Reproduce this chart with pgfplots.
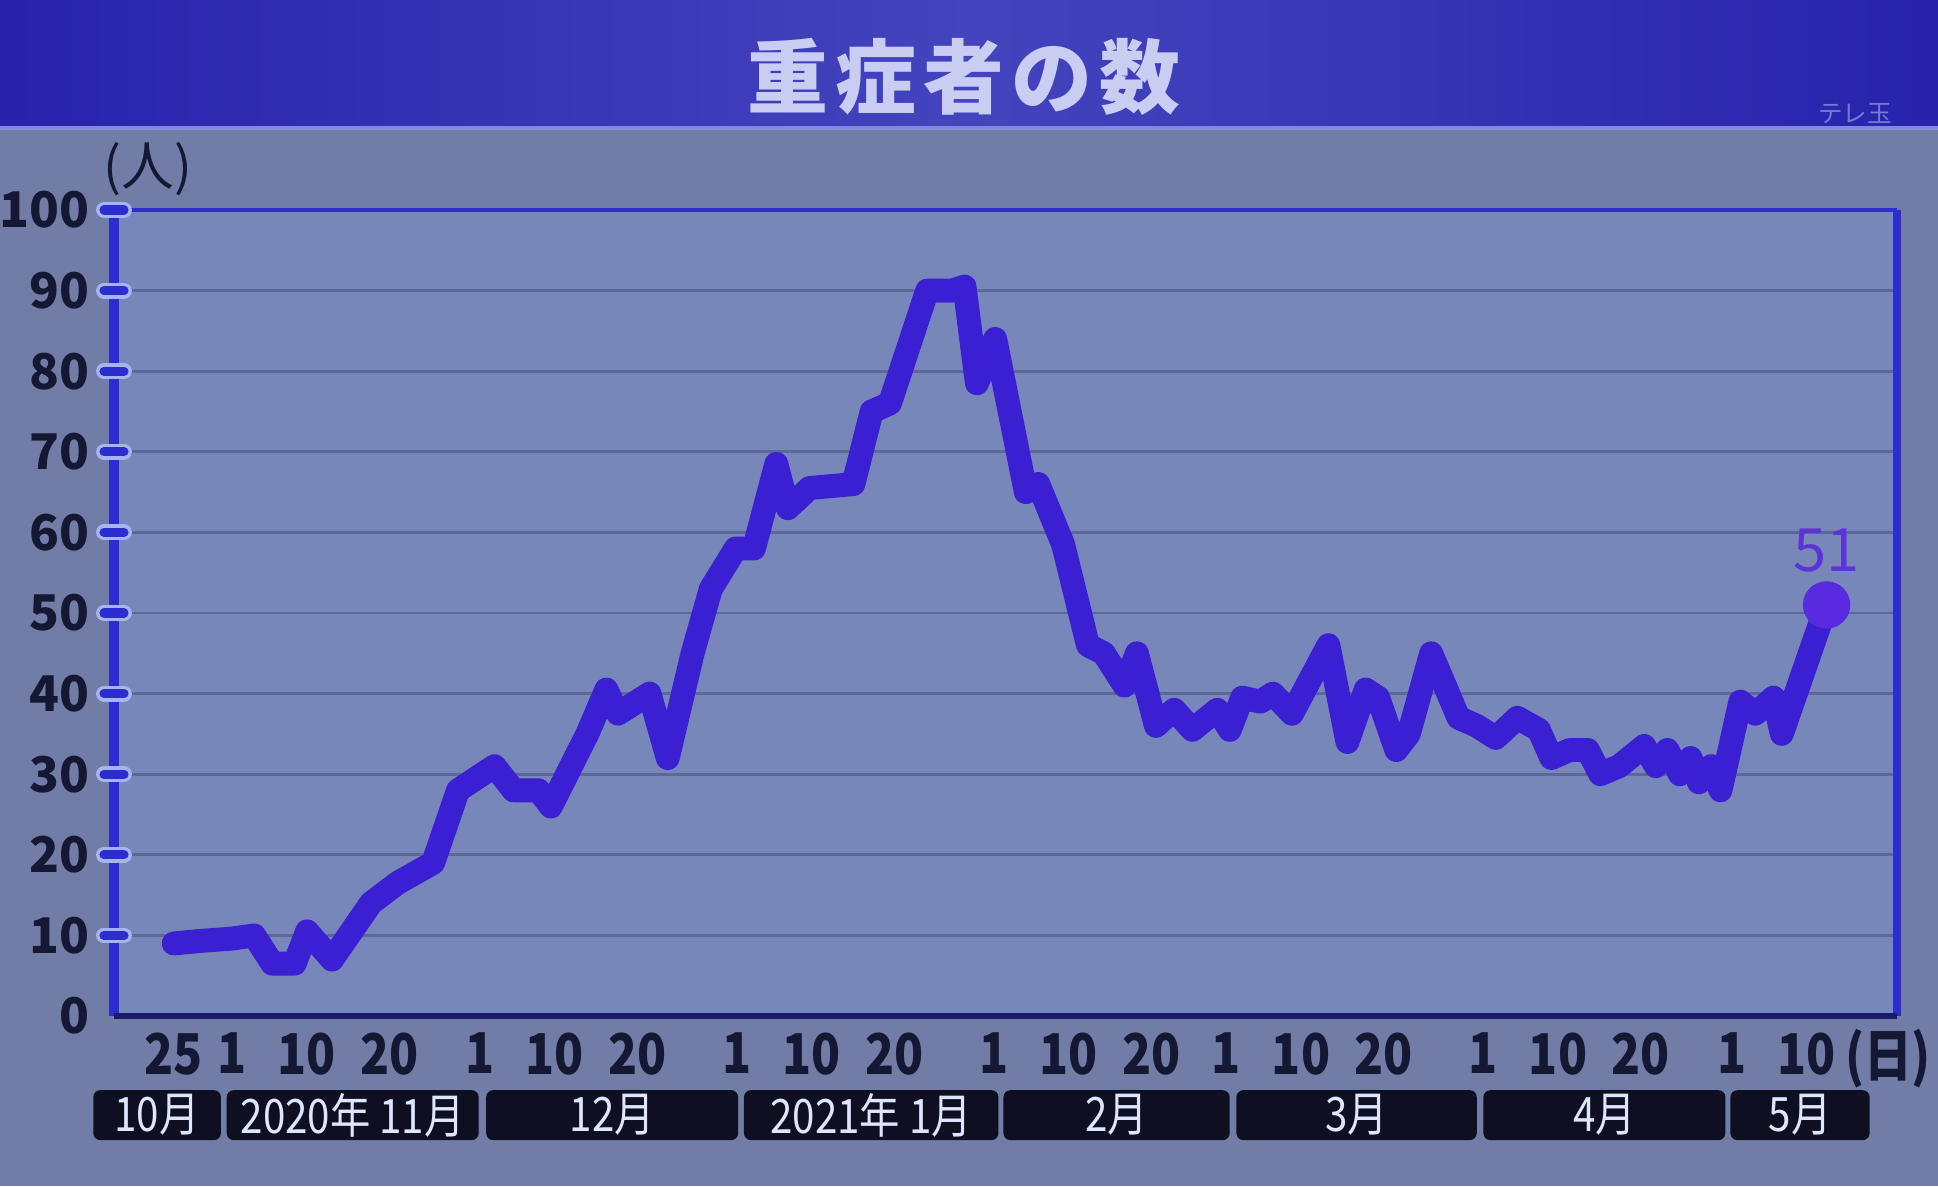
\documentclass[border=0pt]{standalone}
\usepackage{pgfplots}
\pgfplotsset{compat=1.18}
\usepackage{fontspec}
\setmainfont{Noto Sans CJK JP}
\newfontfamily\cond{Noto Sans CJK JP}[FakeStretch=0.85]
\definecolor{bg}{HTML}{717DA6}
\definecolor{plotbg}{HTML}{7787B9}
\definecolor{titlebar}{HTML}{2822AC}
\definecolor{titleglow}{HTML}{4444BE}
\definecolor{lineblue}{HTML}{3A20D2}
\definecolor{axisblue}{HTML}{2C2CD0}
\definecolor{gridc}{HTML}{5C6896}
\definecolor{labeldark}{HTML}{151833}
\definecolor{dotpurple}{HTML}{5A2AE0}
\definecolor{numpurple}{HTML}{5B33D6}
\definecolor{titletext}{HTML}{C9CDF2}
\definecolor{capsule}{HTML}{A8B4F0}
\definecolor{boxc}{HTML}{0E0F20}
\definecolor{boxtext}{HTML}{DFE4FF}
\definecolor{bottomaxis}{HTML}{1A1C6A}
\newcommand{\monthbox}[3]{%
  \fill[boxc, rounded corners=2pt] (axis cs:#1,-9.2) rectangle (axis cs:#2,-15.4);
  \node[boxtext, font=\cond\fontsize{13.5}{15}\selectfont] at (axis cs:#1/2+#2/2,-12.3) {#3};
}
\begin{document}
\begin{tikzpicture}
\useasboundingbox (0,0) rectangle (19.38,11.86);
\fill[bg] (0,0) rectangle (19.38,11.86);
\shade[left color=titlebar, right color=titlebar, middle color=titleglow] (0,10.58) rectangle (19.38,11.86);
\draw[color=capsule!70!titlebar, line width=1pt] (0,10.58) -- (19.38,10.58);
\node[titletext, font=\bfseries\fontsize{23}{26}\selectfont] at (9.64,11.09) {重\kern2pt症\kern2pt者\kern2pt の\kern2pt 数};
\node[color=capsule!60!titlebar, font=\fontsize{7}{8}\selectfont] at (18.55,10.72) {テレ玉};
\begin{axis}[
  at={(1.14cm,1.70cm)}, anchor=south west,
  width=17.83cm, height=8.06cm, scale only axis,
  xmin=-14.2, xmax=200.9, ymin=0, ymax=100,
  clip=false,
  axis background/.style={fill=plotbg},
  axis line style={draw=none},
  ytick={0,10,...,100},
  xtick={-7,0,9,19,30,39,49,61,70,80,92,101,111,120,129,139,151,160,170,181,190},
  xticklabels={25,1,10,20,1,10,20,1,10,20,1,10,20,1,10,20,1,10,20,1,10},
  ymajorgrids,
  grid style={gridc, line width=0.8pt},
  xtick style={draw=none},
  ytick style={draw=none},
  /pgf/number format/assume math mode=true,
  yticklabel style={font=\bfseries\fontsize{14}{16}\selectfont, color=labeldark, anchor=east, xshift=-0.12cm},
  xticklabel style={font=\cond\bfseries\fontsize{16}{18}\selectfont, color=labeldark, anchor=north, yshift=-0.04cm},
]
\addplot[lineblue, line width=6.8pt, line join=round, line cap=round] coordinates {
(-7.0,9) (-4,9.3) (0,9.6) (2.7,10) (4.9,6.5) (7.6,6.5) (9.1,10.5) (12.1,7)
(16.8,14) (20,16.5) (24.3,19) (27.3,28) (31.7,31) (34,28) (37,28) (38.5,26)
(42.9,35) (45.2,40.5) (46.6,37.5) (50.4,40) (52.6,32) (55.6,45) (57.8,53)
(60.8,58) (63,58) (65.7,68.5) (67.1,63) (69.7,65.5) (75,66) (77.2,75) (79.4,76)
(83.9,90) (86.9,90) (88.4,90.5) (89.9,78.5) (92.1,84) (95.8,65) (97.3,66)
(100.3,58.5) (103.3,46) (105.2,45) (107.7,41) (109.2,45) (111.5,36) (113.7,38)
(115.9,35.5) (118.9,38) (120.4,35.5) (121.9,39.5) (124.1,39) (125.6,40)
(127.9,37.5) (132.3,46) (134.6,34) (136.8,40.5) (138.3,39.5) (140.5,33) (142,35)
(144.7,45) (148,37) (150.2,36) (152.5,34.5) (155.1,37) (157.7,35.5) (159.2,32)
(161.4,33) (163.6,33) (165.1,30) (167.4,31) (170.4,33.5) (171.8,31) (173.2,33)
(174.7,30) (176,32) (177,29) (178.5,31) (179.6,28) (182,39) (183.8,37.5)
(186,39.5) (187,35) (192.4,51)
};
\addplot[only marks, mark=*, mark size=0.23cm, color=dotpurple,
  nodes near coords, node near coord style={anchor=south, yshift=0.2cm, color=numpurple, font=\fontsize{17}{18}\selectfont}]
  coordinates {(192.4,51)};
% frame
\draw[axisblue, line width=3pt] (rel axis cs:0,0) -- (rel axis cs:0,1);
\draw[axisblue, line width=2.5pt] (rel axis cs:1,0) -- (rel axis cs:1,1);
\draw[axisblue, line width=1pt] (rel axis cs:0,1) -- (rel axis cs:1,1);
\draw[bottomaxis, line width=1.8pt] (rel axis cs:0,0) -- (rel axis cs:1,0);
\pgfplotsinvokeforeach{10,20,30,40,50,60,70,80,90,100}{
  \draw[capsule, line width=4.5pt, line cap=round] ([xshift=-0.1cm]axis cs:-14.2,#1) -- ([xshift=0.1cm]axis cs:-14.2,#1);
  \draw[axisblue, line width=2.6pt, line cap=round] ([xshift=-0.1cm]axis cs:-14.2,#1) -- ([xshift=0.1cm]axis cs:-14.2,#1);
}
% month boxes
\monthbox{-16.7}{-1.3}{10月}
\monthbox{-0.6}{29.8}{2020年 11月}
\monthbox{30.7}{61.1}{12月}
\monthbox{61.8}{92.5}{2021年 1月}
\monthbox{93.1}{120.4}{2月}
\monthbox{121.2}{150.2}{3月}
\monthbox{151}{180.2}{4月}
\monthbox{180.8}{197.6}{5月}
\end{axis}
\node[labeldark, font=\fontsize{15}{17}\selectfont] at (1.48,10.17) {(人)};
\node[labeldark, font=\cond\bfseries\fontsize{16}{18}\selectfont] at (18.88,1.27) {(日)};
\end{tikzpicture}
\end{document}
